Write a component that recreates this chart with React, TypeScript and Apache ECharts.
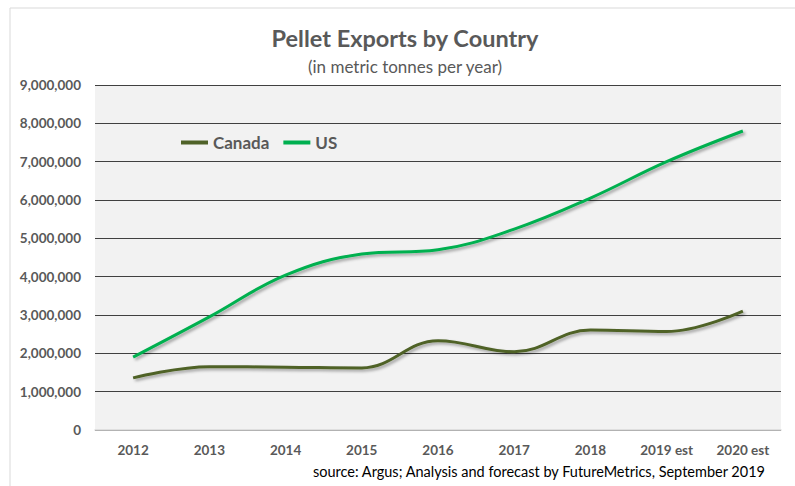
import React, { useEffect, useRef } from "react";
import * as echarts from "echarts";

const categories = ["2012", "2013", "2014", "2015", "2016", "2017", "2018", "2019 est", "2020 est"];
const canada = [1360000, 1650000, 1640000, 1620000, 2330000, 2040000, 2610000, 2570000, 3100000];
const us = [1900000, 2950000, 4040000, 4590000, 4700000, 5240000, 6050000, 7000000, 7800000];

const FONT = "Lato, 'Open Sans', sans-serif";
const GREY = "#595959";

export default function App() {
  const ref = useRef<HTMLDivElement>(null);
  useEffect(() => {
    if (!ref.current) return;
    const chart = echarts.init(ref.current, null, { renderer: "svg" });
    const shadow = {
      shadowColor: "rgba(0,0,0,0.35)",
      shadowBlur: 3,
      shadowOffsetX: 2,
      shadowOffsetY: 2,
    };
    chart.setOption({
      animation: false,
      backgroundColor: "#ffffff",
      textStyle: { fontFamily: FONT },
      graphic: [
        {
          type: "rect",
          shape: { x: 10, y: 8, width: 800, height: 500 },
          style: { fill: "none", stroke: "#d9d9d9", lineWidth: 1 },
          silent: true,
        },
        {
          type: "text",
          x: 405,
          y: 38,
          style: {
            text: "Pellet Exports by Country",
            font: `bold 23.5px ${FONT}`,
            fill: GREY,
            align: "center",
            verticalAlign: "middle",
          },
        },
        {
          type: "text",
          x: 405,
          y: 66,
          style: {
            text: "(in metric tonnes per year)",
            font: `17px ${FONT}`,
            fill: GREY,
            align: "center",
            verticalAlign: "middle",
          },
        },
        {
          type: "text",
          x: 765,
          y: 471,
          style: {
            text: "source: Argus; Analysis and forecast by FutureMetrics, September 2019",
            font: `14.5px ${FONT}`,
            fill: "#000000",
            align: "right",
            verticalAlign: "middle",
          },
        },
      ],
      legend: {
        left: 176,
        top: 129,
        icon: "rect",
        itemWidth: 27,
        itemHeight: 4,
        itemGap: 14,
        textStyle: { fontSize: 17, fontWeight: "bold", color: GREY, fontFamily: FONT },
        data: ["Canada", "US"],
      },
      grid: { left: 95, right: 14, top: 85, bottom: 56, show: true, backgroundColor: "#f2f2f2", borderWidth: 0 },
      xAxis: {
        type: "category",
        data: categories,
        boundaryGap: true,
        axisLine: { show: true, lineStyle: { color: "#d9d9d9", width: 1.5 } },
        axisTick: { show: false },
        axisLabel: { color: GREY, fontWeight: "bold", fontSize: 13.5, margin: 13, fontFamily: FONT },
      },
      yAxis: {
        type: "value",
        min: 0,
        max: 9000000,
        interval: 1000000,
        axisLine: { show: false },
        axisTick: { show: false },
        splitLine: { lineStyle: { color: "#404040", width: 1 } },
        axisLabel: {
          color: GREY,
          fontWeight: "bold",
          fontSize: 13.5,
          margin: 14,
          fontFamily: FONT,
          formatter: (v: number) => v.toLocaleString("en-US"),
        },
      },
      series: [
        {
          name: "Canada",
          type: "line",
          data: canada,
          smooth: 0.4,
          symbol: "none",
          itemStyle: { color: "#4F6228" },
          lineStyle: { color: "#4F6228", width: 3, ...shadow },
        },
        {
          name: "US",
          type: "line",
          data: us,
          smooth: 0.4,
          symbol: "none",
          itemStyle: { color: "#00B050" },
          lineStyle: { color: "#00B050", width: 3, ...shadow },
        },
      ],
    });
    return () => chart.dispose();
  }, []);
  return <div ref={ref} style={{ position: "absolute", left: 0, top: 0, width: 795, height: 486 }} />;
}
